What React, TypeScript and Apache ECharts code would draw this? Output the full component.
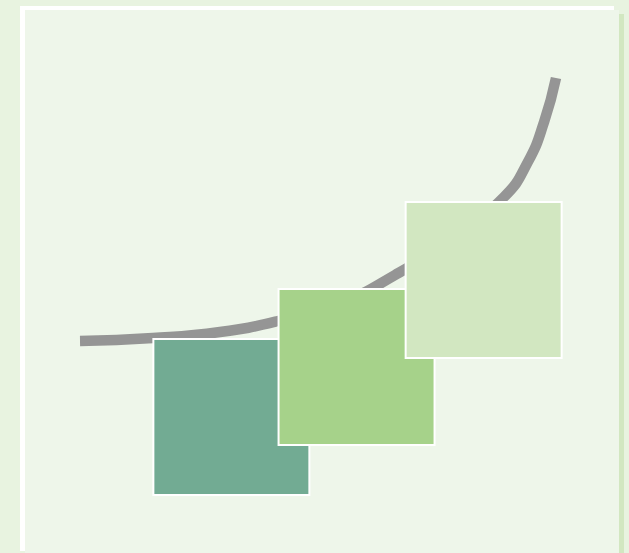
import React, { useEffect, useRef } from "react";
import * as echarts from "echarts";

// Curve data (abstract units, x 0..100, y 0..100)
const curveX = [0, 15.3, 29.4, 41.6, 54.6, 66.2, 77.7, 89.1, 94.1, 97.5, 100];
const curveY = [0, 1.1, 3.4, 7.6, 14.4, 25.1, 38.4, 54.8, 68.1, 83.3, 100];

// Square markers (same units)
const squareNames = ["A", "B", "C"];
const squareX = [31.8, 58.1, 84.8];
const squareY = [-28.9, -9.9, 23.2];

const palette = ["#72ab93", "#a6d28a", "#d2e7c1"];

export default function App() {
  const ref = useRef<HTMLDivElement>(null);
  useEffect(() => {
    document.body.style.margin = "0";
    if (!ref.current) return;
    const chart = echarts.init(ref.current, undefined, { renderer: "svg" });
    chart.setOption({
      animation: false,
      backgroundColor: "#e8f3e0",
      graphic: [
        { type: "rect", z: 0, shape: { x: 30, y: 14, width: 594, height: 545 }, style: { fill: "#d2e7c1" } },
        { type: "rect", z: 0, shape: { x: 20, y: 6, width: 594, height: 545 }, style: { fill: "#ffffff" } },
        { type: "rect", z: 0, shape: { x: 25, y: 10, width: 594, height: 550 }, style: { fill: "#eef6ea" } },
      ],
      grid: { left: 80, right: 73, top: 78, bottom: 212 },
      xAxis: { type: "value", min: 0, max: 100, show: false },
      yAxis: { type: "value", min: 0, max: 100, show: false },
      series: [
        {
          type: "line",
          z: 2,
          clip: false,
          smooth: 0.5,
          symbol: "none",
          data: curveX.map((x, i) => [x, curveY[i]]),
          lineStyle: { color: "#959595", width: 10.5, cap: "butt" },
        },
        {
          type: "scatter",
          z: 3,
          clip: false,
          symbol: "rect",
          symbolSize: 156,
          data: squareX.map((x, i) => ({
            name: squareNames[i],
            value: [x, squareY[i]],
            itemStyle: { color: palette[i] },
          })),
          itemStyle: { borderColor: "#ffffff", borderWidth: 2, opacity: 1 },
          emphasis: { disabled: true },
        },
      ],
    });
    return () => chart.dispose();
  }, []);
  return <div ref={ref} style={{ width: 629, height: 553 }} />;
}
